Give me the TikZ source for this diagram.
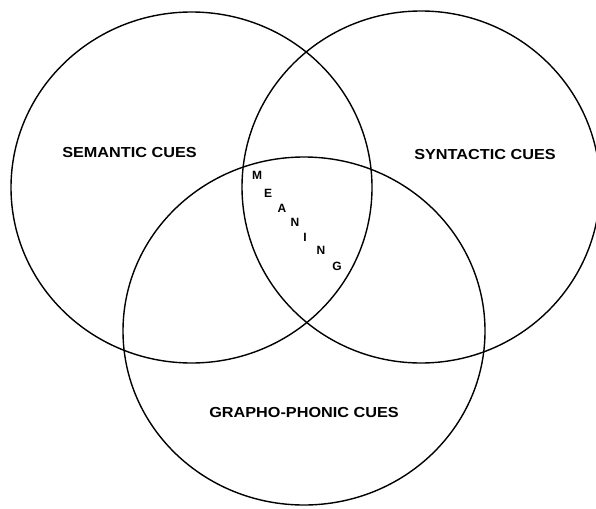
\documentclass[tikz,border=0pt]{standalone}
\usepackage{fontspec}
\setmainfont{Liberation Sans}
\usepackage{graphicx}
\usetikzlibrary{positioning}
\newcommand{\cuefont}{\fontsize{14.5}{15}\selectfont\bfseries}
\newcommand{\letfont}{\fontsize{12}{13}\selectfont\bfseries}
\newcommand{\wide}[1]{\scalebox{1.12}[1]{#1}}

\begin{document}
\begin{tikzpicture}[x=1pt, y=-1pt,
   ring/.style={draw, line width=1.4pt},
   cue/.style={font=\cuefont, inner sep=0pt},
   let/.style={font=\letfont, inner sep=0pt}]
  \useasboundingbox (0,0) rectangle (596,508);
  \coordinate (semc) at (191.5,187.5);
  \coordinate (sync) at (421,187);
  \coordinate (grac) at (304,331);
  \draw[ring] (semc) ellipse[x radius=180.5, y radius=175.5];
  \draw[ring] (sync) ellipse[x radius=179, y radius=176];
  \draw[ring] (grac) ellipse[x radius=181, y radius=174];
  \node[cue] (sem) at (129.5,153) {\wide{SEMANTIC CUES}};
  \node[cue] (syn) at (485,155) {\wide{SYNTACTIC CUES}};
  \node[cue] (gra) at (304,413) {\wide{GRAPHO-PHONIC CUES}};
  % meaning, letter by letter
  \node[let] (m) at (257,175) {M};
  \node[let] (e) at (268,193) {E};
  \node[let] (a) at (282,208) {A};
  \node[let] (n1) at (295,222) {N};
  \node[let] (i) at (305,237) {I};
  \node[let] (n2) at (321,250) {N};
  \node[let] (g) at (337,266) {G};
\end{tikzpicture}
\end{document}
